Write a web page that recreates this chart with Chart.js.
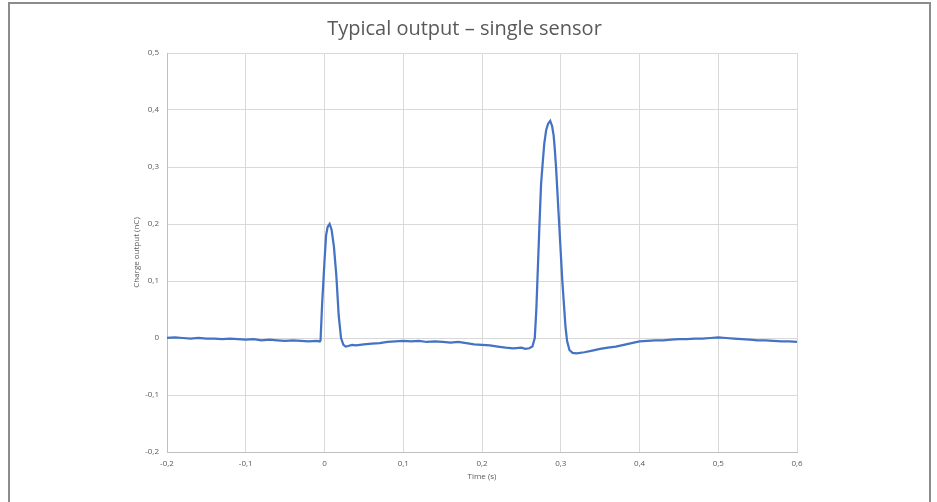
<!DOCTYPE html>
<html>
<head>
<meta charset="utf-8">
<script src="https://cdn.jsdelivr.net/npm/chart.js@4"></script>
<style>
  html, body { margin: 0; padding: 0; background: #fff; overflow: hidden; }
  #wrap { position: relative; width: 937px; height: 502px; }
  #frame { position: absolute; left: 8px; top: 2px; width: 923px; height: 620px;
           box-sizing: border-box; border: 2px solid #8c8c8c; pointer-events: none; }
</style>
</head>
<body>
<div id="wrap">
  <canvas id="graph" width="937" height="502"></canvas>
  <div id="frame"></div>
</div>
<script>
// time (s) and charge output (nC)
var timeValues = [
  -0.2, -0.19, -0.18, -0.17, -0.16, -0.15, -0.14, -0.13, -0.12, -0.11,
  -0.1, -0.09, -0.08, -0.07, -0.06, -0.05, -0.04, -0.03, -0.02, -0.01,
  -0.006, -0.005, -0.003, 0, 0.002, 0.004, 0.0065, 0.009, 0.012, 0.015,
  0.018, 0.021, 0.024, 0.027, 0.03, 0.035, 0.04, 0.05, 0.06, 0.07,
  0.08, 0.09, 0.1, 0.11, 0.12, 0.13, 0.14, 0.15, 0.16, 0.17,
  0.18, 0.19, 0.2, 0.21, 0.22, 0.23, 0.24, 0.25, 0.255, 0.26,
  0.264, 0.267, 0.269, 0.271, 0.273, 0.275, 0.277, 0.279, 0.2815, 0.284,
  0.2866, 0.289, 0.291, 0.2925, 0.294, 0.296, 0.298, 0.3, 0.302, 0.304,
  0.306, 0.308, 0.311, 0.315, 0.32, 0.33, 0.34, 0.35, 0.36, 0.37,
  0.38, 0.39, 0.4, 0.41, 0.42, 0.43, 0.44, 0.45, 0.46, 0.47,
  0.48, 0.49, 0.5, 0.51, 0.52, 0.53, 0.54, 0.55, 0.56, 0.57,
  0.58, 0.59, 0.6
];
var chargeValues = [
  0, 0.001, 0, -0.001, 0, -0.001, -0.001, -0.002, -0.001, -0.002,
  -0.003, -0.002, -0.004, -0.003, -0.004, -0.005, -0.004, -0.005, -0.006, -0.005,
  -0.006, -0.004, 0.06, 0.135, 0.18, 0.195, 0.2, 0.19, 0.16, 0.11,
  0.04, 0.0, -0.012, -0.015, -0.014, -0.012, -0.013, -0.011, -0.01, -0.009,
  -0.007, -0.006, -0.005, -0.006, -0.005, -0.007, -0.006, -0.007, -0.008, -0.007,
  -0.009, -0.011, -0.012, -0.013, -0.015, -0.017, -0.018, -0.017, -0.019, -0.018,
  -0.015, 0.0, 0.05, 0.125, 0.2, 0.27, 0.306, 0.34, 0.365, 0.376,
  0.381, 0.372, 0.355, 0.33, 0.3, 0.25, 0.2, 0.15, 0.1, 0.06,
  0.02, -0.005, -0.021, -0.026, -0.027, -0.025, -0.022, -0.019, -0.017, -0.015,
  -0.012, -0.009, -0.006, -0.005, -0.004, -0.004, -0.003, -0.002, -0.002, -0.001,
  -0.001, 0, 0.001, 0, -0.001, -0.002, -0.003, -0.004, -0.004, -0.005,
  -0.006, -0.006, -0.007
];
var xRange = [-0.2, 0.6];
var yRange = [-0.2, 0.5];

function commaLabel(v) {
    var r = Math.round(v * 10) / 10;
    return String(r).replace(".", ",");
}

var points = timeValues.map(function (t, i) { return { x: t, y: chargeValues[i] }; });
var tickFont = { family: "'Open Sans', sans-serif", size: 8 };
var ctx = document.getElementById("graph").getContext("2d");
var lineChart = new Chart(ctx, {
    type: "line",
    data: {
        datasets: [{
            label: "Charge output",
            data: points,
            borderColor: "#4472C4",
            borderWidth: 2.25,
            pointRadius: 0,
            fill: false,
            tension: 0
        }]
    },
    options: {
        responsive: false,
        animation: false,
        layout: { padding: { left: 132, right: 140, top: 0, bottom: 0 } },
        plugins: {
            legend: { display: false },
            tooltip: { enabled: false },
            title: {
                display: true,
                text: "Typical output – single sensor",
                color: "#595959",
                font: { family: "'Open Sans', sans-serif", size: 20, weight: "500", lineHeight: 1.2 },
                padding: { top: 17, bottom: 12 }
            }
        },
        scales: {
            x: {
                type: "linear",
                min: xRange[0],
                max: xRange[1],
                ticks: { stepSize: 0.1, color: "#595959", font: tickFont, padding: 7, maxRotation: 0,
                          callback: function (v) { return commaLabel(v); } },
                grid: { color: "#d9d9d9", drawTicks: false },
                border: { color: "#bfbfbf" },
                title: { display: true, text: "Time (s)", color: "#595959", font: tickFont,
                         padding: { top: 0, bottom: 20 } },
                afterFit: function (scale) { scale.height = 50; }
            },
            y: {
                min: yRange[0],
                max: yRange[1],
                ticks: { stepSize: 0.1, color: "#595959", font: tickFont, padding: 8,
                          callback: function (v) { return commaLabel(v); } },
                grid: { color: "#d9d9d9", drawTicks: false },
                border: { color: "#bfbfbf" },
                title: { display: true, text: "Charge output (nC)", color: "#595959", font: tickFont,
                         padding: { top: 0, bottom: 0 } },
                afterFit: function (scale) { scale.width = 35; }
            }
        }
    }
});
</script>
</body>
</html>
